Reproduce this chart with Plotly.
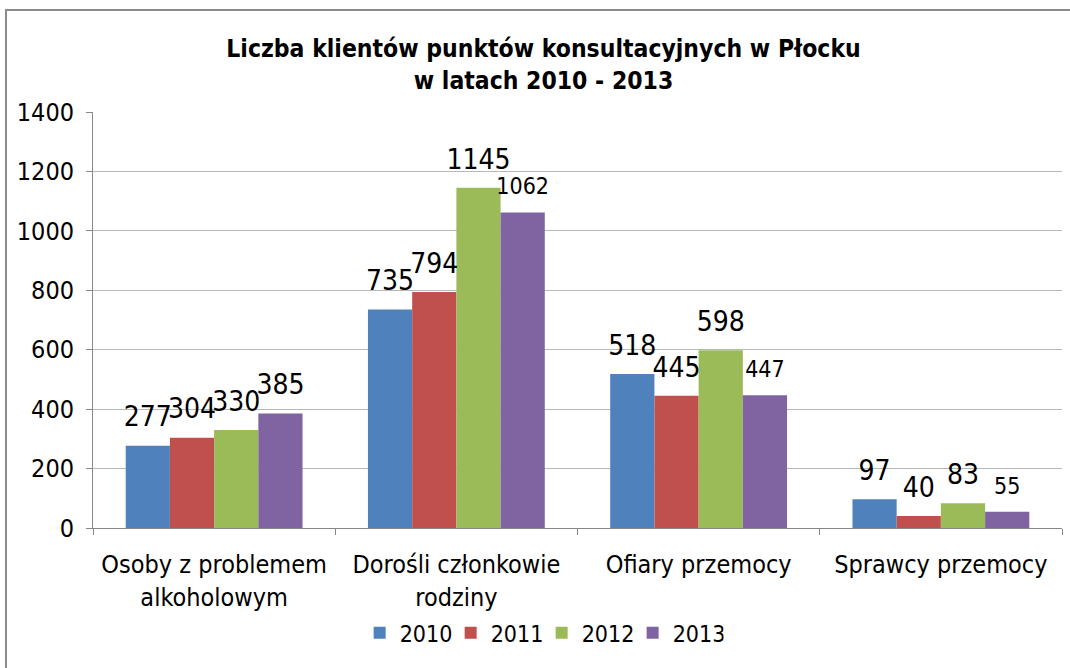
import plotly.graph_objects as go

categories = ["Osoby z problemem<br>alkoholowym", "Dorośli członkowie<br>rodziny",
              "Ofiary przemocy", "Sprawcy przemocy"]
years = ["2010", "2011", "2012", "2013"]
values = {
    "2010": [277, 735, 518, 97],
    "2011": [304, 794, 445, 40],
    "2012": [330, 1145, 598, 83],
    "2013": [385, 1062, 447, 55],
}
label_sizes = {
    "2010": [28, 28, 28, 28],
    "2011": [28, 28, 28, 28],
    "2012": [28, 28, 28, 28],
    "2013": [28, 23, 23, 23],
}
colors = ["#4F81BD", "#C0504D", "#9BBB59", "#8064A2"]
y_ticks = [0, 200, 400, 600, 800, 1000, 1200, 1400]

FONT = "DejaVu Sans Condensed, DejaVu Sans, sans-serif"

fig = go.Figure()
for yr, col in zip(years, colors):
    fig.add_trace(go.Bar(
        x=categories, y=values[yr], name=yr, marker_color=col,
        marker_line_width=0, offsetgroup=yr, alignmentgroup="a",
    ))
for yr in years:
    fig.add_trace(go.Scatter(
        x=categories, y=values[yr], mode="markers+text",
        text=[str(v) for v in values[yr]], textposition="top center",
        textfont=dict(family=FONT, size=label_sizes[yr], color="black"),
        marker=dict(size=18, color="rgba(0,0,0,0)"),
        offsetgroup=yr, alignmentgroup="a", showlegend=False,
        hoverinfo="skip", cliponaxis=False,
    ))

fig.update_layout(
    width=1070, height=668,
    margin=dict(l=93, r=8, t=112, b=140, autoexpand=False),
    paper_bgcolor="white", plot_bgcolor="white",
    barmode="group", scattermode="group",
    bargap=0.27, bargroupgap=0, scattergap=0.27,
    font=dict(family=FONT, color="black"),
    title=dict(
        text="<b>Liczba klientów punktów konsultacyjnych w Płocku<br>w latach 2010 - 2013</b>",
        x=0.508, xanchor="center", y=0.914, yanchor="middle",
        font=dict(family=FONT, size=24.5, color="black"),
    ),
    legend=dict(
        orientation="h", x=0.463, xanchor="center", y=-0.252, yanchor="middle",
        font=dict(family=FONT, size=23, color="black"),
        traceorder="normal", itemwidth=30, entrywidth=46, entrywidthmode="pixels",
    ),
    showlegend=True,
)
fig.update_yaxes(
    range=[0, 1400], tickvals=y_ticks, showgrid=True, gridcolor="#b8b8b8", gridwidth=1,
    showline=True, linecolor="#888888", linewidth=1,
    ticks="outside", ticklen=6, tickcolor="#888888",
    tickfont=dict(family=FONT, size=25, color="black"), ticklabelstandoff=7,
    zeroline=False, fixedrange=True, automargin=False,
)
fig.update_xaxes(
    showline=True, linecolor="#888888", linewidth=1,
    ticks="outside", ticklen=6, tickcolor="#888888", tickson="boundaries",
    tickfont=dict(family=FONT, size=25, color="black"), ticklabelstandoff=14,
    fixedrange=True, automargin=False,
)
fig.add_shape(type="rect", xref="paper", yref="paper",
              x0=(6 - 93) / 969, x1=(1075 - 93) / 969,
              y0=-(680 - 528) / 416, y1=(528 - 10) / 416,
              line=dict(color="#8c8c8c", width=2), fillcolor="rgba(0,0,0,0)", layer="below")

fig.write_html("out.html", config={"displayModeBar": False},
               post_script="document.body.style.margin='0';document.body.style.overflow='hidden';")
